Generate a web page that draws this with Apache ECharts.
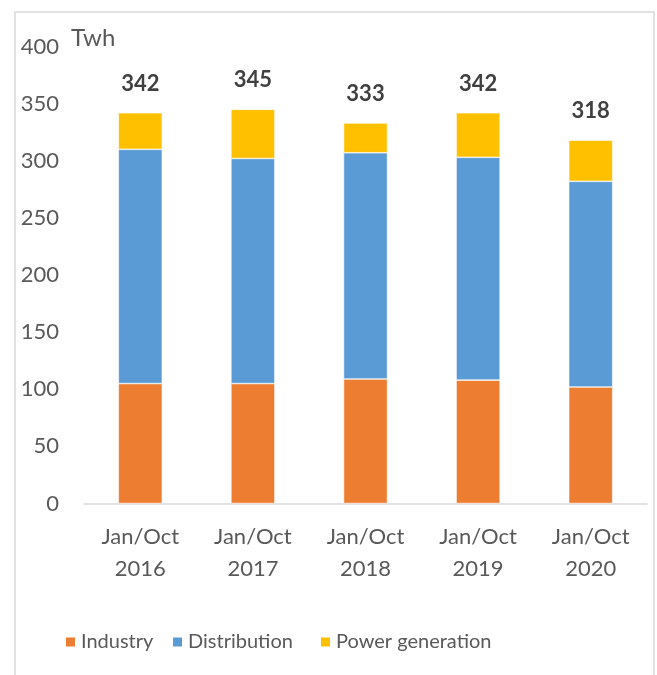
<!DOCTYPE html>
<html><head><meta charset="utf-8">
<script src="https://cdn.jsdelivr.net/npm/echarts@6/dist/echarts.min.js"></script>
<style>html,body{margin:0;padding:0;background:#fff}#c{width:657px;height:675px}</style>
</head><body><div id="c"></div>
<script>
const categories = ['Jan/Oct\n2016','Jan/Oct\n2017','Jan/Oct\n2018','Jan/Oct\n2019','Jan/Oct\n2020'];
const seriesNames = ['Industry', 'Distribution', 'Power generation'];
const industry = [105, 105, 109, 108, 102];
const distribution = [205, 197, 198, 195, 180];
const powerGeneration = [32, 43, 26, 39, 36];
const totals = [342, 345, 333, 342, 318];
const yTicks = [0, 50, 100, 150, 200, 250, 300, 350, 400];

const FONT = 'Lato, "Open Sans", sans-serif';
const chart = echarts.init(document.getElementById('c'), null, {renderer: 'canvas'});
const barStyle = c => ({color: c, borderColor: '#ffffff', borderWidth: 0.6});
const legendLefts = [59, 166, 314];
chart.setOption({
  animation: false,
  graphic: [{
    type: 'rect', shape: {x: 15, y: 12, width: 639, height: 700},
    style: {fill: 'none', stroke: '#d9d9d9', lineWidth: 1.5}, silent: true
  }],
  title: {text: 'Twh', left: 66, top: 21, textStyle: {fontFamily: FONT, fontSize: 24, fontWeight: 'normal', color: '#595959'}},
  grid: {left: 84, right: 10, top: 46.5, bottom: 171.5, containLabel: false},
  legend: seriesNames.map((n, i) => ({
    data: [n], left: legendLefts[i], top: 627, itemWidth: 11, itemHeight: 11, icon: 'rect',
    textStyle: {fontFamily: FONT, fontSize: 20, color: '#595959'}
  })),
  xAxis: {
    type: 'category', data: categories,
    axisLine: {lineStyle: {color: '#d9d9d9', width: 1.5}},
    axisTick: {show: false},
    axisLabel: {fontFamily: FONT, fontSize: 22, color: '#595959', lineHeight: 32, margin: 17, interval: 0}
  },
  yAxis: {
    type: 'value', min: yTicks[0], max: yTicks[yTicks.length-1], interval: 50,
    splitLine: {show: false}, axisLine: {show: false}, axisTick: {show: false},
    axisLabel: {fontFamily: FONT, fontSize: 22, color: '#595959', margin: 25}
  },
  series: [
    {name: seriesNames[0], type: 'bar', stack: 't', data: industry, barWidth: 44, itemStyle: barStyle('#ED7D31')},
    {name: seriesNames[1], type: 'bar', stack: 't', data: distribution, barWidth: 44, itemStyle: barStyle('#5B9BD5')},
    {name: seriesNames[2], type: 'bar', stack: 't', data: powerGeneration, barWidth: 44, itemStyle: barStyle('#FFC000'),
     label: {show: true, position: 'top', distance: 18, formatter: p => String(totals[p.dataIndex]),
             fontFamily: FONT, fontSize: 22, fontWeight: 'bold', color: '#404040'}}
  ]
});
</script></body></html>
